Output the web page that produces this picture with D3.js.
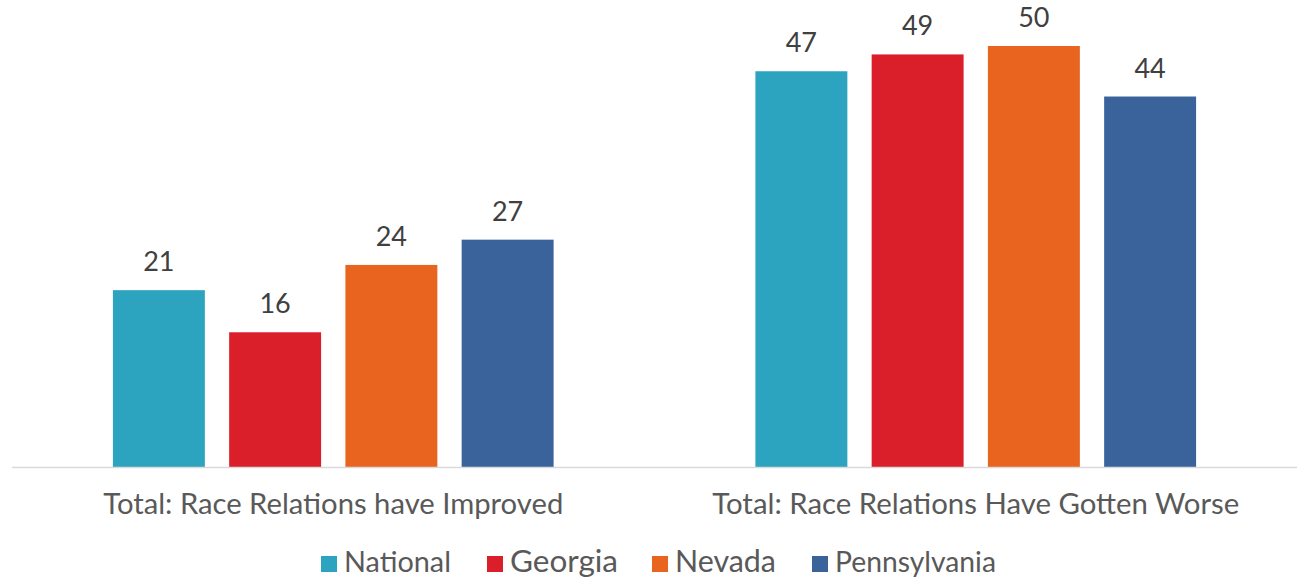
<!DOCTYPE html>
<html><head><meta charset="utf-8">
<script src="https://cdn.jsdelivr.net/npm/d3@7"></script>
<style>body{margin:0;background:#fff}svg{display:block}</style>
</head><body>
<svg id="c" width="1299" height="578"></svg>
<script>
const categories = ["Total: Race Relations have Improved", "Total: Race Relations Have Gotten Worse"];
const series = ["National", "Georgia", "Nevada", "Pennsylvania"];
const National = [21, 47];
const Georgia = [16, 49];
const Nevada = [24, 50];
const Pennsylvania = [27, 44];
const values = {National, Georgia, Nevada, Pennsylvania};
const colors = ["#2ca3bf", "#da1f2a", "#e9641e", "#3a639c"];

const svg = d3.select("#c");
const font = "'Century Gothic','Lato','Noto Sans',sans-serif";
const x0 = d3.scaleBand().domain(categories).range([12, 1297]).paddingInner(0).paddingOuter(0);
const x1 = d3.scaleBand().domain(series).range([0, x0.bandwidth()]).paddingInner(0.209).paddingOuter(0.868);
const y = d3.scaleLinear().domain([0, 50]).range([467, 46]);
const color = d3.scaleOrdinal().domain(series).range(colors);

const g = svg.append("g");
categories.forEach((c, i) => {
  series.forEach(s => {
    const v = values[s][i];
    g.append("rect").attr("x", x0(c) + x1(s)).attr("y", y(v))
      .attr("width", x1.bandwidth()).attr("height", y(0) - y(v)).attr("fill", color(s));
    g.append("text").attr("x", x0(c) + x1(s) + x1.bandwidth() / 2).attr("y", y(v) - 19)
      .attr("text-anchor", "middle").attr("font-family", font).attr("font-size", 27)
      .attr("fill", "#404040").text(v);
  });
});

svg.append("line").attr("x1", 12).attr("x2", 1297).attr("y1", y(0) + 0.5).attr("y2", y(0) + 0.5)
  .attr("stroke", "#d9d9d9").attr("stroke-width", 1.5);

function fit(sel, w) {
  const node = sel.node();
  const fs = +sel.attr("font-size");
  const cur = node.getComputedTextLength();
  sel.attr("font-size", (fs * w / cur).toFixed(2));
}

const catW = [460, 527];
categories.forEach((c, i) => {
  const t = svg.append("text").attr("x", x0(c) + x0.bandwidth() / 2).attr("y", 514)
    .attr("text-anchor", "middle").attr("font-family", font).attr("font-size", 24)
    .attr("fill", "#595959").text(c);
  fit(t, catW[i]);
});

const legX = [321, 487, 652, 812];
const legW = [107, 108, 101, 161];
series.forEach((s, i) => {
  svg.append("rect").attr("x", legX[i]).attr("y", 556).attr("width", 16).attr("height", 16).attr("fill", color(s));
  const t = svg.append("text").attr("x", legX[i] + 23).attr("y", 572)
    .attr("font-family", font).attr("font-size", 24).attr("fill", "#595959").text(s);
  fit(t, legW[i]);
});
</script>
</body></html>
